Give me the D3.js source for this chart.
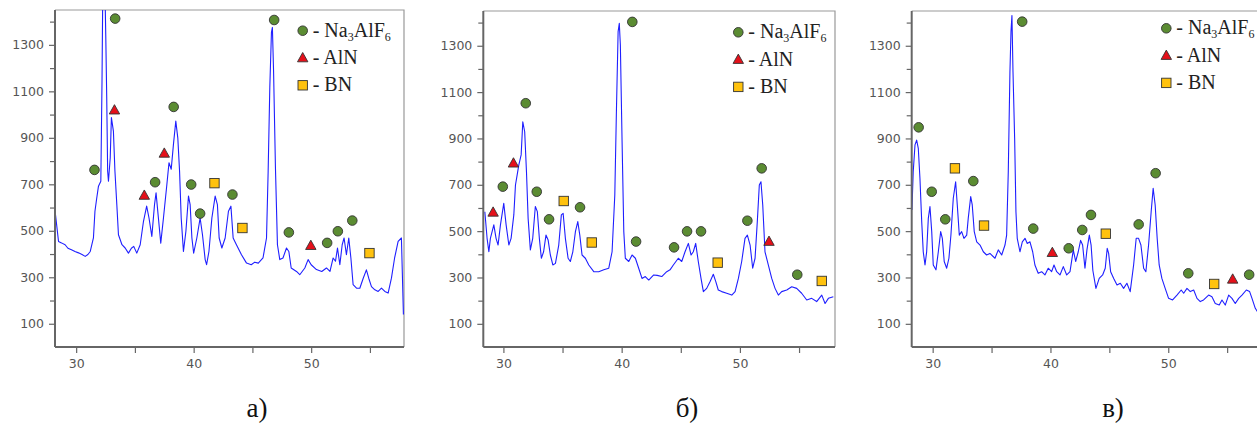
<!DOCTYPE html>
<html>
<head>
<meta charset="utf-8">
<script src="https://cdn.jsdelivr.net/npm/d3@7/dist/d3.min.js"></script>
<style>
  html, body { margin: 0; padding: 0; background: #fff; }
  svg { display: block; }
</style>
</head>
<body>
<svg id="chart" width="1257" height="423"></svg>
<script>
// ---- X-ray diffraction patterns: [2θ, intensity] ----
const specA = [[28.21,584],[28.5,454],[28.75,448],[29.06,440],[29.3,425],[29.6,418],[29.9,411],[30.2,405],[30.5,398],[30.77,390],[31.0,398],[31.2,411],[31.47,469],[31.6,584],[31.75,640],[31.9,692],[32.1,713],[32.2,1140],[32.26,1500],[32.32,1650],[32.42,1600],[32.47,1480],[32.52,1340],[32.6,1080],[32.68,757],[32.75,713],[32.9,814],[33.0,987],[33.17,929],[33.3,757],[33.46,613],[33.6,483],[33.9,440],[34.17,426],[34.45,404],[34.7,425],[34.9,433],[35.16,404],[35.45,440],[35.73,541],[36.0,606],[36.2,555],[36.44,476],[36.67,613],[36.8,663],[37.0,555],[37.2,447],[37.43,555],[37.72,699],[37.9,793],[38.09,765],[38.28,872],[38.48,972],[38.65,900],[38.8,757],[38.94,555],[39.13,411],[39.34,498],[39.56,649],[39.7,613],[39.85,469],[40.0,404],[40.27,469],[40.55,555],[40.75,483],[40.98,376],[41.1,354],[41.3,411],[41.55,555],[41.83,649],[42.02,613],[42.17,469],[42.4,426],[42.68,469],[42.96,584],[43.17,606],[43.36,469],[43.64,440],[44.07,397],[44.5,361],[44.9,354],[45.2,365],[45.5,361],[45.9,383],[46.2,469],[46.34,757],[46.48,1116],[46.62,1354],[46.7,1375],[46.8,1188],[46.96,771],[47.13,440],[47.33,376],[47.6,383],[47.9,426],[48.1,411],[48.3,340],[48.75,325],[49.03,311],[49.46,340],[49.74,376],[50.0,354],[50.45,333],[50.9,325],[51.3,340],[51.6,325],[51.87,383],[52.07,369],[52.24,426],[52.44,354],[52.64,440],[52.8,469],[53.0,397],[53.2,469],[53.38,383],[53.57,268],[53.86,253],[54.14,253],[54.43,296],[54.7,332],[54.9,296],[55.13,260],[55.42,246],[55.7,239],[55.98,253],[56.27,239],[56.55,232],[56.83,296],[57.1,383],[57.4,454],[57.68,469],[57.85,140]];

const specB = [[28.43,584],[28.62,469],[28.77,411],[28.9,469],[29.19,527],[29.38,469],[29.55,440],[29.75,527],[30.03,620],[30.23,527],[30.46,440],[30.65,469],[30.88,570],[31.02,699],[31.16,742],[31.3,785],[31.5,829],[31.64,972],[31.8,929],[31.95,757],[32.09,555],[32.28,419],[32.48,469],[32.7,606],[32.87,584],[33.04,469],[33.21,383],[33.4,411],[33.6,483],[33.78,462],[33.97,397],[34.18,354],[34.4,361],[34.68,440],[34.9,570],[35.05,577],[35.24,469],[35.47,383],[35.66,369],[35.87,411],[36.09,498],[36.29,541],[36.46,483],[36.65,397],[36.93,383],[37.22,354],[37.64,325],[38.06,325],[38.49,333],[38.91,340],[39.19,411],[39.42,656],[39.55,1001],[39.7,1361],[39.8,1397],[39.89,1303],[40.03,900],[40.18,498],[40.31,383],[40.6,369],[40.88,397],[41.16,383],[41.44,340],[41.72,296],[42.0,304],[42.29,289],[42.71,311],[43.0,309],[43.39,304],[43.81,325],[44.09,333],[44.37,354],[44.79,383],[45.08,369],[45.36,411],[45.64,447],[45.87,397],[46.06,411],[46.26,447],[46.48,369],[46.71,296],[46.91,239],[47.19,253],[47.47,282],[47.75,314],[47.96,282],[48.17,246],[48.46,239],[48.88,232],[49.31,224],[49.59,239],[49.87,296],[50.15,369],[50.43,469],[50.63,483],[50.86,440],[51.08,340],[51.28,383],[51.47,541],[51.64,699],[51.78,713],[51.93,613],[52.12,411],[52.4,354],[52.69,296],[52.97,253],[53.25,224],[53.53,239],[53.96,246],[54.38,260],[54.8,253],[55.22,232],[55.65,203],[56.07,210],[56.49,196],[56.92,224],[57.2,188],[57.48,210],[57.9,217]];

const specC = [[28.24,591],[28.35,757],[28.5,872],[28.64,893],[28.78,857],[28.92,728],[29.07,541],[29.2,411],[29.35,354],[29.49,411],[29.63,555],[29.77,606],[29.92,498],[30.05,354],[30.28,333],[30.48,411],[30.68,498],[30.82,469],[30.98,369],[31.19,340],[31.38,383],[31.55,483],[31.75,642],[31.95,713],[32.09,613],[32.26,483],[32.46,498],[32.66,469],[32.89,483],[33.02,555],[33.23,649],[33.36,613],[33.53,498],[33.74,454],[34.02,440],[34.3,411],[34.58,397],[34.86,404],[35.29,383],[35.57,419],[35.86,397],[36.14,440],[36.28,483],[36.42,757],[36.56,1188],[36.65,1361],[36.73,1430],[36.82,1188],[36.96,900],[37.07,584],[37.18,469],[37.41,411],[37.61,454],[37.84,469],[38.03,447],[38.26,454],[38.49,411],[38.68,354],[38.96,318],[39.25,325],[39.53,311],[39.81,340],[40.1,325],[40.3,354],[40.53,325],[40.81,311],[41.09,347],[41.38,311],[41.66,325],[41.94,419],[42.14,369],[42.36,411],[42.56,460],[42.73,440],[42.93,340],[43.1,420],[43.3,483],[43.45,440],[43.6,330],[43.86,253],[44.14,296],[44.43,311],[44.65,340],[44.82,426],[44.94,404],[45.11,325],[45.37,296],[45.65,268],[45.93,275],[46.21,253],[46.49,275],[46.77,239],[47.06,354],[47.28,469],[47.48,469],[47.68,440],[47.91,340],[48.1,325],[48.33,440],[48.55,584],[48.72,685],[48.89,613],[49.06,469],[49.23,354],[49.46,296],[49.74,253],[50.03,210],[50.37,203],[50.74,224],[51.1,246],[51.31,232],[51.59,253],[51.87,239],[52.16,246],[52.44,210],[52.72,196],[53.0,203],[53.43,224],[53.71,217],[53.99,188],[54.33,181],[54.56,203],[54.84,181],[55.13,224],[55.41,210],[55.69,188],[55.98,210],[56.26,224],[56.63,246],[56.91,239],[57.11,210],[57.39,167],[57.6,150]];

// ---- Phase reflections: [2θ, marker height] ----
const naA  = [[31.56,762],[33.32,1413],[36.72,709],[38.3,1033],[39.79,699],[40.55,574],[43.3,656],[46.85,1407],[48.1,493],[51.36,448],[52.27,498],[53.5,544]];
const alnA = [[33.26,1019],[35.8,652],[37.5,833],[49.97,436]];
const bnA  = [[41.77,705],[44.15,512],[54.96,404]];

const naB  = [[29.95,692],[31.89,1052],[32.82,670],[33.86,551],[36.48,603],[40.9,1403],[41.22,455],[44.43,430],[45.53,499],[46.71,499],[50.63,545],[51.84,771],[54.85,312]];
const alnB = [[29.13,581],[30.85,793],[52.46,455]];
const bnB  = [[35.1,630],[37.47,451],[48.12,364],[56.92,285]];

const naC  = [[28.81,948],[29.92,670],[31.07,551],[33.45,716],[37.6,1404],[38.54,511],[41.55,426],[42.7,505],[43.44,570],[47.49,529],[48.93,750],[51.7,318],[56.87,312]];
const alnC = [[40.16,407],[55.47,292]];
const bnC  = [[31.89,771],[34.36,524],[44.7,489],[53.9,272]];

// ---- Labels and ticks ----
const panelLabels = ["а)", "б)", "в)"];
const phaseNames  = ["Na3AlF6", "AlN", "BN"];
const yMajorTicks = [100, 300, 500, 700, 900, 1100, 1300];
const yMinorTicks = [200, 400, 600, 800, 1000, 1200, 1400];
const xMajorTicks = [30, 40, 50];
const xMinorTicks = [35, 45, 55];

// ---- Layout ----
const panels = [
  { spec: specA, na: naA, aln: alnA, bn: bnA, label: panelLabels[0],
    left: 55, right: 404, top: 10, bottom: 347, xDom: [28.2, 57.9],
    legendX: 302.7, legendY: 30.7, labelX: 257 },
  { spec: specB, na: naB, aln: alnB, bn: bnB, label: panelLabels[1],
    left: 483.3, right: 835, top: 11, bottom: 347, xDom: [28.3, 58.04],
    legendX: 738.3, legendY: 32.3, labelX: 687 },
  { spec: specC, na: naC, aln: alnC, bn: bnC, label: panelLabels[2],
    left: 911.7, right: 1258, top: 11, bottom: 347, xDom: [28.22, 57.62],
    legendX: 1166.3, legendY: 28.3, labelX: 1113 }
];

const COLORS = {
  line: "#1f1fff",
  na: "#5b8c32",
  aln: "#e5101a",
  bn: "#ffc20e",
  markerStroke: "#333",
  axis: "#666",
  frame: "#999",
  tickText: "#555"
};

const svg = d3.select("#chart");
const defs = svg.append("defs");

function drawMarker(sel, kind, x, y) {
  if (kind === "na") {
    sel.append("circle").attr("cx", x).attr("cy", y).attr("r", 4.8)
      .attr("fill", COLORS.na).attr("stroke", COLORS.markerStroke).attr("stroke-width", 0.9);
  } else if (kind === "aln") {
    sel.append("path").attr("d", `M${x},${y - 5.5}L${x + 5.2},${y + 3.8}L${x - 5.2},${y + 3.8}Z`)
      .attr("fill", COLORS.aln).attr("stroke", COLORS.markerStroke).attr("stroke-width", 0.9);
  } else {
    sel.append("rect").attr("x", x - 4.7).attr("y", y - 4.7).attr("width", 9.4).attr("height", 9.4)
      .attr("fill", COLORS.bn).attr("stroke", COLORS.markerStroke).attr("stroke-width", 0.9);
  }
}

panels.forEach((p, i) => {
  const g = svg.append("g");
  const x = d3.scaleLinear().domain(p.xDom).range([p.left, p.right]);
  const y = d3.scaleLinear().domain([0, 1450]).range([p.bottom, p.top]);

  const clipId = "clip" + i;
  defs.append("clipPath").attr("id", clipId)
    .append("rect").attr("x", p.left).attr("y", p.top)
    .attr("width", p.right - p.left).attr("height", p.bottom - p.top);

  // frame (top and right)
  g.append("path")
    .attr("d", `M${p.left},${p.top}H${p.right}V${p.bottom}`)
    .attr("fill", "none").attr("stroke", COLORS.frame).attr("stroke-width", 1.2);

  // diffraction curve
  const line = d3.line().x(d => x(d[0])).y(d => y(d[1]));
  g.append("path").datum(p.spec)
    .attr("clip-path", `url(#${clipId})`)
    .attr("d", line)
    .attr("fill", "none").attr("stroke", COLORS.line).attr("stroke-width", 1.1)
    .attr("stroke-linejoin", "round");

  // y axis
  const yAxis = g.append("g").attr("transform", `translate(${p.left},0)`)
    .call(d3.axisLeft(y).tickValues(yMajorTicks).tickFormat(d3.format("d")).tickSize(6).tickPadding(5));
  const yMinor = g.append("g").attr("transform", `translate(${p.left},0)`)
    .call(d3.axisLeft(y).tickValues(yMinorTicks).tickSize(5));

  // x axis
  const xAxis = g.append("g").attr("transform", `translate(0,${p.bottom})`)
    .call(d3.axisBottom(x).tickValues(xMajorTicks).tickFormat(d3.format("d")).tickSize(6).tickPadding(6));
  const xMinor = g.append("g").attr("transform", `translate(0,${p.bottom})`)
    .call(d3.axisBottom(x).tickValues(xMinorTicks).tickSize(6));

  // minor ticks carry no labels
  yMinor.selectAll(".tick text").remove();
  xMinor.selectAll(".tick text").remove();

  [yAxis, yMinor, xAxis, xMinor].forEach(a => {
    a.select(".domain").attr("stroke", COLORS.axis).attr("stroke-width", 2);
    a.selectAll(".tick line").attr("stroke", COLORS.axis).attr("stroke-width", 1.2);
    a.selectAll(".tick text").attr("fill", COLORS.tickText)
      .style("font-family", "'DejaVu Sans', sans-serif").style("font-size", "12.5px");
  });
  yAxis.select(".domain").attr("d", `M0,${p.top}V${p.bottom}`);
  yMinor.select(".domain").remove();
  xAxis.select(".domain").attr("d", `M${p.left},0H${p.right}`);
  xMinor.select(".domain").remove();

  // phase markers
  const mk = g.append("g");
  p.na.forEach(d => drawMarker(mk, "na", x(d[0]), y(d[1])));
  p.aln.forEach(d => drawMarker(mk, "aln", x(d[0]), y(d[1])));
  p.bn.forEach(d => drawMarker(mk, "bn", x(d[0]), y(d[1])));

  // legend
  const lg = g.append("g").attr("transform", `translate(${p.legendX},${p.legendY})`);
  const kinds = ["na", "aln", "bn"];
  kinds.forEach((k, j) => {
    const cy = j * 27.3;
    drawMarker(lg, k, 0, cy);
    const t = lg.append("text").attr("x", 10).attr("y", cy + 6)
      .attr("fill", "#222")
      .style("font-family", "'Liberation Serif', 'Times New Roman', serif")
      .style("font-size", "20px");
    // digits in the formula are set as subscripts
    const parts = ("- " + phaseNames[j]).split(/(\d)/).filter(s => s.length);
    let lowered = false;
    parts.forEach(part => {
      const isSub = /^\d$/.test(part);
      const ts = t.append("tspan").text(part);
      if (isSub) {
        ts.style("font-size", "12px");
        if (!lowered) { ts.attr("dy", 4); lowered = true; }
      } else if (lowered) {
        ts.attr("dy", -4); lowered = false;
      }
    });
  });

  // panel caption
  g.append("text").attr("x", p.labelX).attr("y", 417)
    .attr("text-anchor", "middle").attr("fill", "#111")
    .style("font-family", "'Liberation Serif', 'Times New Roman', serif")
    .style("font-size", "27px")
    .text(p.label);
});
</script>
</body>
</html>
